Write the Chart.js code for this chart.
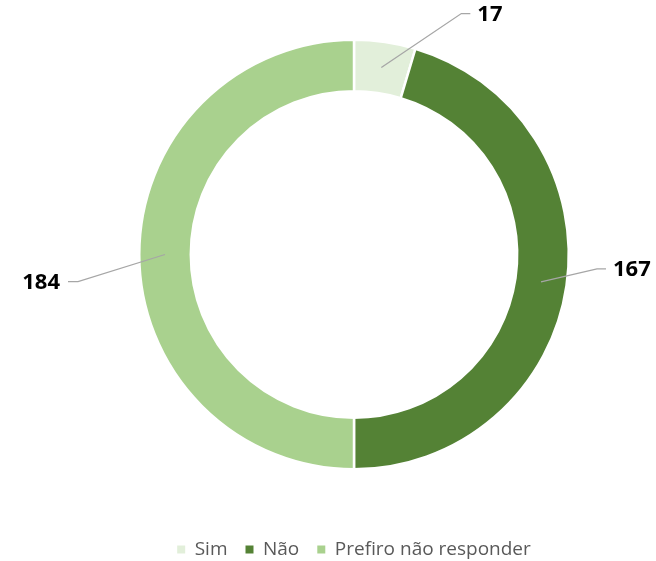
<!DOCTYPE html>
<html>
<head>
<meta charset="utf-8">
<script src="https://cdn.jsdelivr.net/npm/chart.js@4/dist/chart.umd.min.js"></script>
<style>
  html, body { margin: 0; padding: 0; background: #fff; overflow: hidden; }
  #frame { width: 656px; height: 561px; position: relative; overflow: hidden; }
  /* canvas a bit taller than the frame so the ring and legend sit where Excel put them */
  #wrap { position: absolute; left: 0; top: -13.5px; width: 656px; height: 582px; }
</style>
</head>
<body>
<div id="frame"><div id="wrap"><canvas id="chart-donut"></canvas></div></div>
<script>
// data
const categories = ['Sim', 'Não', 'Prefiro não responder'];
const answers = [17, 167, 184];
const sliceColors = ['#e2efda', '#548235', '#a9d18e'];

// leader line layout for each label (elbow offset from the slice anchor, then short tail)
const leaderOffsets = [
  { dx: 80, dy: -54, tail: 9 },
  { dx: 56, dy: -13, tail: 9 },
  { dx: -87, dy: 27, tail: -10 }
];

/**
 * Value labels with grey leader lines, Excel style
 */
const leaderLabels = {
  id: 'leaderLabels',
  afterDatasetsDraw(chart) {
    const { ctx } = chart;
    const meta = chart.getDatasetMeta(0);
    ctx.save();
    meta.data.forEach((arc, i) => {
      const anchor = arc.tooltipPosition();
      const off = leaderOffsets[i];
      const ex = anchor.x + off.dx;
      const ey = anchor.y + off.dy;
      const tx = ex + off.tail;

      ctx.strokeStyle = '#a6a6a6';
      ctx.lineWidth = 1.25;
      ctx.beginPath();
      ctx.moveTo(anchor.x, anchor.y);
      ctx.lineTo(ex, ey);
      ctx.lineTo(tx, ey);
      ctx.stroke();

      ctx.fillStyle = '#000';
      ctx.font = "bold 22px 'Open Sans', sans-serif";
      ctx.textBaseline = 'middle';
      ctx.textAlign = off.tail > 0 ? 'left' : 'right';
      ctx.fillText(String(answers[i]), tx + (off.tail > 0 ? 7 : -8), ey + 1);
    });
    ctx.restore();
  }
};

const ctx = document.getElementById('chart-donut').getContext('2d');
new Chart(ctx, {
  type: 'doughnut',
  data: {
    labels: categories,
    datasets: [{
      data: answers,
      backgroundColor: sliceColors,
      borderColor: '#ffffff',
      borderWidth: 2.5,
      cutout: '76%'
    }]
  },
  options: {
    responsive: true,
    maintainAspectRatio: false,
    animation: false,
    layout: {
      padding: { top: 0, left: 138, right: 86, bottom: 0 }
    },
    plugins: {
      tooltip: { enabled: false },
      legend: {
        position: 'bottom',
        labels: {
          boxWidth: 8,
          boxHeight: 8,
          padding: 18,
          color: '#595959',
          font: { family: "'Open Sans', sans-serif", size: 19 },
          // plain filled squares, without the white slice border
          generateLabels(chart) {
            const base = Chart.overrides.doughnut.plugins.legend.labels.generateLabels(chart);
            return base.map(item => ({ ...item, lineWidth: 0 }));
          }
        }
      }
    }
  },
  plugins: [leaderLabels]
});
</script>
</body>
</html>
